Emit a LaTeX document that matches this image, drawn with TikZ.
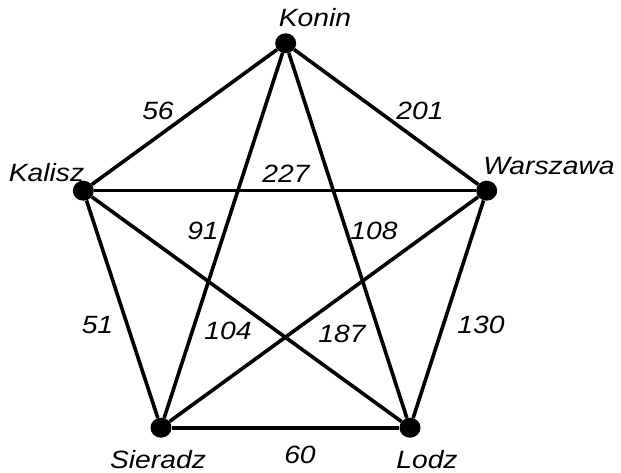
\documentclass[tikz,border=0pt]{standalone}
\usepackage{fontspec}
\usetikzlibrary{shapes.geometric}
\newfontfamily\lab{Liberation Sans}[FakeStretch=1.13]
\begin{document}
\begin{tikzpicture}[x=1pt,y=-1pt,
  city/.style={ellipse,fill=black,inner sep=0pt,minimum width=21pt,minimum height=20pt},
  lbl/.style={anchor=base,inner sep=0pt,font=\lab\itshape\fontsize{25}{30}\selectfont},
  edge/.style={line width=3.6pt,black}]
\useasboundingbox (0,0) rectangle (621,473);
\node[city] (ko) at (285.7,43.3) {};
\node[city] (ka) at (83.3,190.7) {};
\node[city] (wa) at (486.7,190.7) {};
\node[city] (si) at (161,427.7) {};
\node[city] (lo) at (410,427.7) {};
\draw[edge] (ko) -- (ka);
\draw[edge] (ko) -- (wa);
\draw[edge] (ko) -- (si);
\draw[edge] (ko) -- (lo);
\draw[edge] (ka) -- (wa);
\draw[edge] (ka) -- (si);
\draw[edge] (ka) -- (lo);
\draw[edge] (wa) -- (si);
\draw[edge] (wa) -- (lo);
\draw[edge] (si) -- (lo);
\node[lbl] (tko) at (315,27) {Konin};
\node[lbl] (tka) at (46.5,182) {Kalisz};
\node[lbl] (twa) at (549,175) {Warszawa};
\node[lbl] (tsi) at (158,468) {Sieradz};
\node[lbl] (tlo) at (427,468) {Lodz};
\node[lbl] (e1) at (158,120) {56};
\node[lbl] (e2) at (420,120) {201};
\node[lbl] (e3) at (286,183) {227};
\node[lbl] (e4) at (203,240) {91};
\node[lbl] (e5) at (374,240) {108};
\node[lbl] (e6) at (97.5,333) {51};
\node[lbl] (e7) at (228,339) {104};
\node[lbl] (e8) at (342,342) {187};
\node[lbl] (e9) at (481,333) {130};
\node[lbl] (e10) at (300,463) {60};
\end{tikzpicture}
\end{document}
